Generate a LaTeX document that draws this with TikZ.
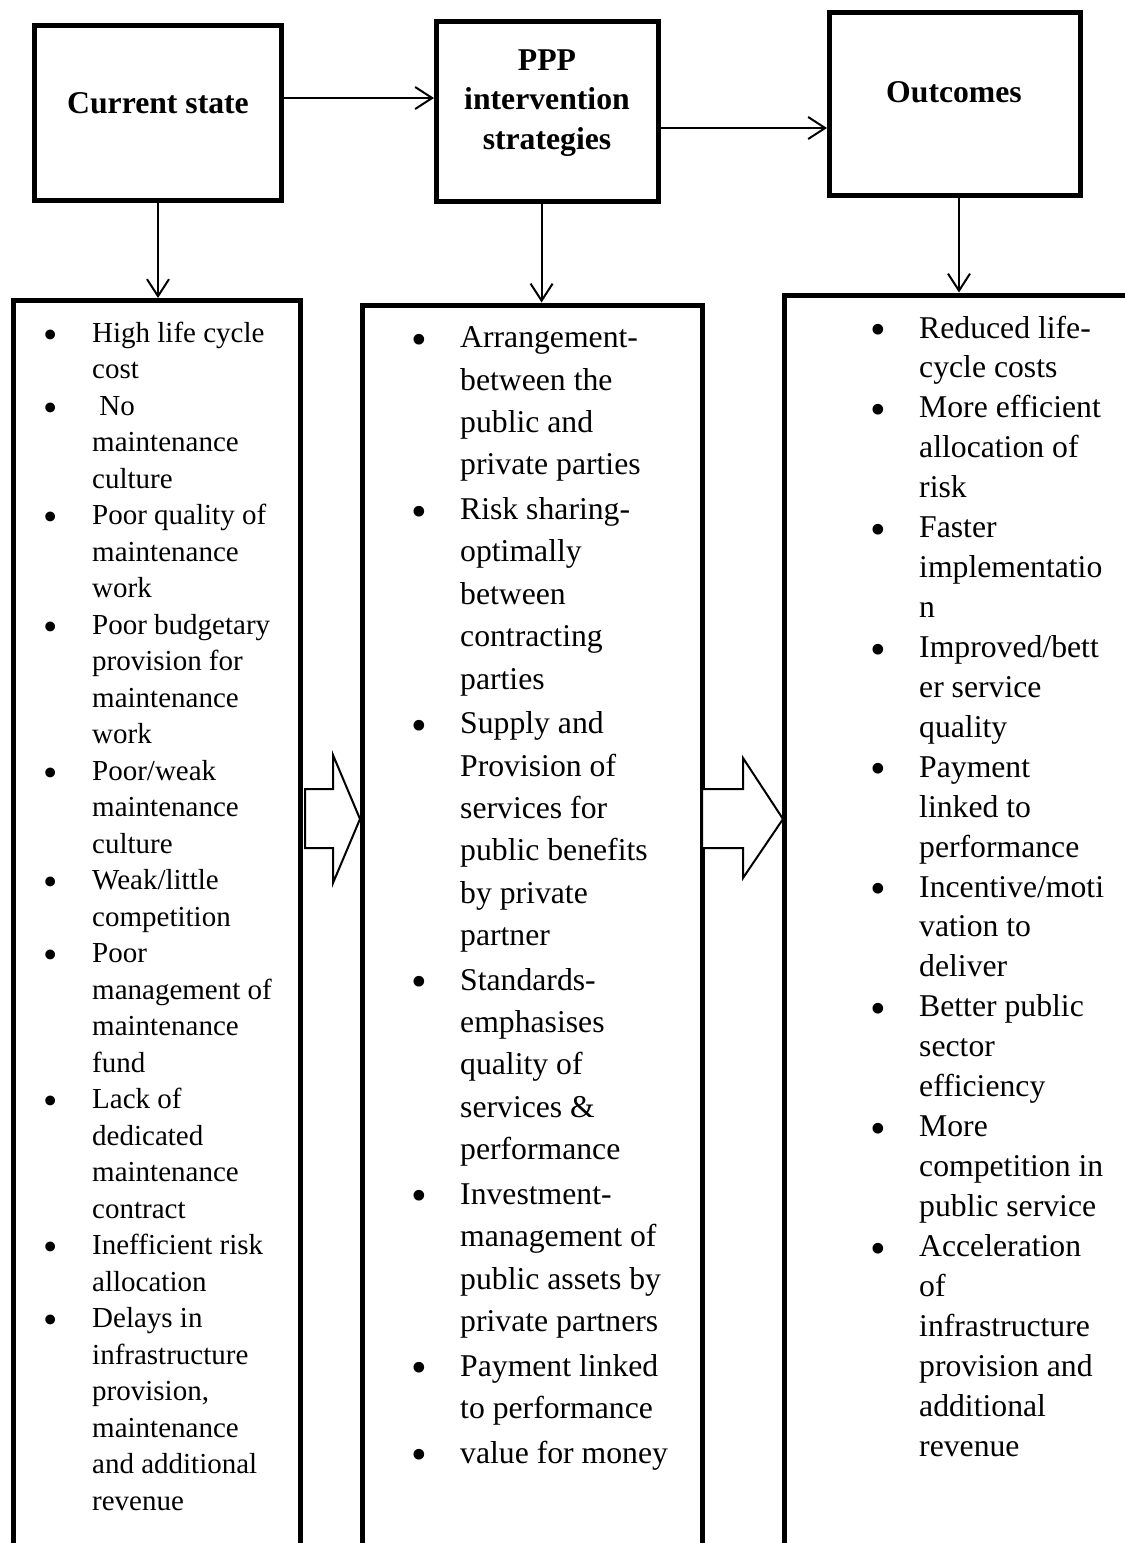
\documentclass[tikz,border=0pt]{standalone}
\usepackage{fontspec}
\setmainfont{Liberation Serif}
\usetikzlibrary{arrows.meta}
\newcommand{\bul}{\raisebox{-0.21em}{\scalebox{1.41}{\textbullet}}}
\begin{document}
\begin{tikzpicture}[x=1pt,y=-1pt,
  frame/.style={draw, line width=5pt, inner sep=0pt, rectangle},
  conn/.style={line width=2pt, -{Straight Barb[length=17pt,width=22pt,line width=2pt]}},
  titletext/.style={inner sep=0pt, anchor=base, font=\fontsize{31.7}{39.5}\selectfont\bfseries},
  coltext/.style={inner sep=0pt, anchor=base west},
  blockarrow/.style={draw, line width=2pt, fill=white, line join=miter},
]
\useasboundingbox (0,0) rectangle (1125,1543);
\clip (0,0) rectangle (1125,1543);

% top boxes
\node[frame, minimum width=247pt, minimum height=175.5pt] (box1) at (158,112.75) {};
\node[frame, minimum width=222pt, minimum height=180pt] (box2) at (547.5,111) {};
\node[frame, minimum width=251pt, minimum height=183pt] (box3) at (955,103.5) {};

% titles
\node[titletext] (t1) at (158,113) {Current state};
\node[titletext] (t2) at (547,70) {\begin{tabular}[t]{@{}c@{}}PPP\\intervention\\strategies\end{tabular}};
\node[titletext] (t3) at (954,102) {Outcomes};

% lower boxes (running past the bottom of the page)
\node[frame, minimum width=287pt, minimum height=1299.5pt] (lowA) at (157,950.25) {};
\node[frame, minimum width=340pt, minimum height=1295pt] (lowB) at (532,952.5) {};
\node[frame, minimum width=416pt, minimum height=1305pt] (lowC) at (992,947.5) {};

% connectors
\draw[conn] (box1.east |- 0,98) -- (box2.west |- 0,98);
\draw[conn] (box2.east |- 0,128) -- (box3.west |- 0,128);
\draw[conn] (box1.south -| 158,0) -- (lowA.north -| 158,0);
\draw[conn] (box2.south -| 541.6,0) -- (lowB.north -| 541.6,0);
\draw[conn] (box3.south -| 959,0) -- (lowC.north -| 959,0);

% block arrows
\draw[blockarrow] (305,789) -- (333,789) -- (333,755) -- (360,819) -- (333,883) -- (333,848) -- (305,848) -- cycle;
\draw[blockarrow] (702,789) -- (743,789) -- (743,758) -- (783,819) -- (743,878) -- (743,848) -- (702,848) -- cycle;

% left column
\node[coltext, font=\fontsize{29}{36.5}\selectfont] (colA) at (43,342) {%
\begin{tabular}[t]{@{}p{49pt}@{}l@{}}
\bul & High life cycle\\
 & cost\\
\bul & \ No\\
 & maintenance\\
 & culture\\
\bul & Poor quality of\\
 & maintenance\\
 & work\\
\bul & Poor budgetary\\
 & provision for\\
 & maintenance\\
 & work\\
\bul & Poor/weak\\
 & maintenance\\
 & culture\\
\bul & Weak/little\\
 & competition\\
\bul & Poor\\
 & management of\\
 & maintenance\\
 & fund\\
\bul & Lack of\\
 & dedicated\\
 & maintenance\\
 & contract\\
\bul & Inefficient risk\\
 & allocation\\
\bul & Delays in\\
 & infrastructure\\
 & provision,\\
 & maintenance\\
 & and additional\\
 & revenue
\end{tabular}};

% middle column
\node[coltext, font=\fontsize{31.7}{42.4}\selectfont] (colB) at (411,347.7) {%
\begin{tabular}[t]{@{}p{49pt}@{}l@{}}
\bul & Arrangement-\\
 & between the\\
 & public and\\
 & private parties\\[2.15pt]
\bul & Risk sharing-\\
 & optimally\\
 & between\\
 & contracting\\
 & parties\\[2.15pt]
\bul & Supply and\\
 & Provision of\\
 & services for\\
 & public benefits\\
 & by private\\
 & partner\\[2.15pt]
\bul & Standards-\\
 & emphasises\\
 & quality of\\
 & services \&\\
 & performance\\[2.15pt]
\bul & Investment-\\
 & management of\\
 & public assets by\\
 & private partners\\[2.15pt]
\bul & Payment linked\\
 & to performance\\[2.15pt]
\bul & value for money
\end{tabular}};

% right column
\node[coltext, font=\fontsize{31.7}{39.93}\selectfont] (colC) at (870,338) {%
\begin{tabular}[t]{@{}p{49pt}@{}l@{}}
\bul & Reduced life-\\
 & cycle costs\\
\bul & More efficient\\
 & allocation of\\
 & risk\\
\bul & Faster\\
 & implementatio\\
 & n\\
\bul & Improved/bett\\
 & er service\\
 & quality\\
\bul & Payment\\
 & linked to\\
 & performance\\
\bul & Incentive/moti\\
 & vation to\\
 & deliver\\
\bul & Better public\\
 & sector\\
 & efficiency\\
\bul & More\\
 & competition in\\
 & public service\\
\bul & Acceleration\\
 & of\\
 & infrastructure\\
 & provision and\\
 & additional\\
 & revenue
\end{tabular}};
\end{tikzpicture}
\end{document}
